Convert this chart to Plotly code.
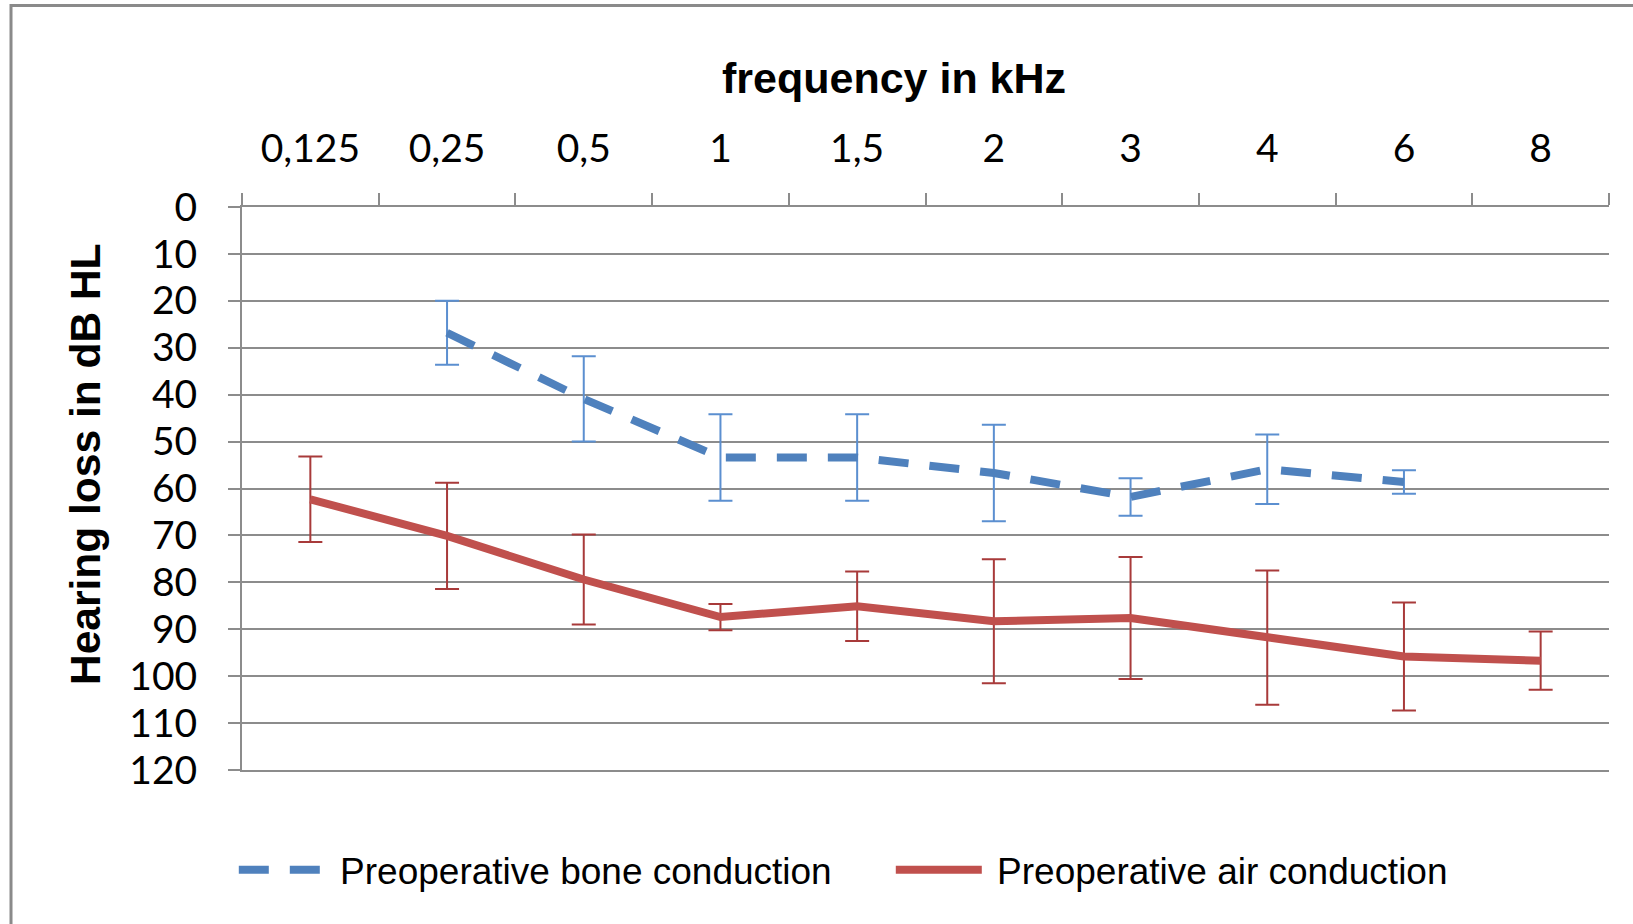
import plotly.graph_objects as go

# frequencies (kHz) as shown on the audiogram
freq_labels = ["0,125", "0,25", "0,5", "1", "1,5", "2", "3", "4", "6", "8"]

# preoperative bone conduction (dB HL), mean and SD
bone = [None, 26.8, 40.9, 53.4, 53.4, 56.7, 61.8, 55.9, 58.6, None]
bone_sd = [None, 6.8, 9.1, 9.2, 9.2, 10.3, 4.0, 7.4, 2.5, None]

# preoperative air conduction (dB HL), mean and SD
air = [62.3, 70.1, 79.4, 87.4, 85.1, 88.3, 87.6, 91.8, 95.8, 96.7]
air_sd = [9.1, 11.3, 9.6, 2.8, 7.4, 13.2, 13.0, 14.3, 11.5, 6.2]

y_ticks = list(range(0, 121, 10))

W, H = 1633, 924
ML, MR, MT, MB = 242, 24, 207, 154
pw = W - ML - MR
ph = H - MT - MB

tick_font = dict(family="Lato, Open Sans, sans-serif", size=39, color="#000000")
title_font = dict(family="Liberation Sans, Arial, sans-serif", size=43,
                  color="#000000", weight="bold")
legend_font = dict(family="Liberation Sans, Arial, sans-serif", size=37, color="#000000")
grey = "#8c8c8c"

fig = go.Figure()

fig.add_trace(go.Scatter(
    x=freq_labels, y=bone, mode="lines",
    name="\u00a0Preoperative bone conduction",
    line=dict(color="#4f81bd", width=8, dash="30px,21px"),
    error_y=dict(type="data", array=bone_sd, visible=True,
                 color="#5b8fd0", thickness=2, width=12),
))

fig.add_trace(go.Scatter(
    x=freq_labels, y=air, mode="lines",
    name="\u00a0Preoperative air conduction",
    line=dict(color="#c0504d", width=8),
    error_y=dict(type="data", array=air_sd, visible=True,
                 color="#a83a3a", thickness=2, width=12),
))

# outer frame of the chart (right and bottom edges fall outside the picture)
fig.add_shape(type="rect", xref="paper", yref="paper",
              x0=(11 - ML) / pw, x1=(W + 20 - ML) / pw,
              y0=-(MB + 20) / ph, y1=1 + (MT - 5.5) / ph,
              line=dict(color="#8a8a8a", width=3), layer="below")

# axis titles placed as in the original (not centred on the plot)
fig.add_annotation(text="frequency in kHz", font=title_font, showarrow=False,
                   xref="paper", yref="paper", x=(894 - ML) / pw, y=1 + (MT - 78) / ph,
                   xanchor="center", yanchor="middle")
fig.add_annotation(text="Hearing loss in dB HL", font=dict(title_font, size=42.5),
                   showarrow=False, textangle=-90,
                   xref="paper", yref="paper", x=(85 - ML) / pw, y=(H - MB - 464) / ph,
                   xanchor="center", yanchor="middle")

fig.update_xaxes(
    type="category", side="top",
    showgrid=False, showline=True, mirror=True, linecolor=grey, linewidth=2,
    ticks="outside", tickson="boundaries", ticklen=12, tickcolor=grey, tickwidth=2,
    tickfont=tick_font, ticklabelstandoff=27,
)

fig.update_yaxes(
    range=[120, 0], tickvals=y_ticks,
    showgrid=True, gridcolor=grey, gridwidth=2, zeroline=False,
    showline=True, linecolor=grey, linewidth=2,
    ticks="outside", ticklen=12, tickcolor=grey, tickwidth=2,
    tickfont=tick_font, ticklabelstandoff=23,
)

fig.update_layout(
    width=W, height=H,
    margin=dict(l=ML, r=MR, t=MT, b=MB, autoexpand=False),
    paper_bgcolor="white", plot_bgcolor="white",
    legend=dict(orientation="h", x=-0.006, xanchor="left", y=-0.178, yanchor="middle",
                font=legend_font,
                itemwidth=86, entrywidth=556, entrywidthmode="pixels",
                bgcolor="rgba(0,0,0,0)"),
    showlegend=True,
)

fig.write_html("out.html", config={"displayModeBar": False},
               post_script="document.body.style.margin='0px';")
